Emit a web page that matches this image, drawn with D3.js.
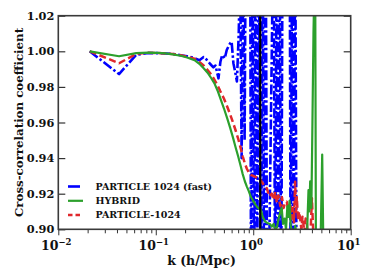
<!DOCTYPE html>
<html>
<head>
  <meta charset="UTF-8">
  <script src="https://d3js.org/d3.v7.min.js"></script>
  <style>
    body { margin: 0; background: #fff; }
    text { font-family: "DejaVu Serif", serif; font-weight: bold; fill: #111; }
  </style>
</head>
<body>
<svg></svg>
<script>

// ---- data ----
var kLow = [0.021, 0.042, 0.063, 0.084, 0.105, 0.126, 0.15, 0.18, 0.21, 0.25, 0.28, 0.31];

var hybridK = kLow.concat([0.34, 0.37, 0.40, 0.43, 0.46, 0.50, 0.54, 0.58, 0.62, 0.66, 0.70, 0.74, 0.78, 0.82, 0.86, 0.90, 0.95, 1.00, 1.05, 1.10, 1.15, 1.20, 1.25, 1.32, 1.40, 1.48, 1.55, 1.62, 1.68, 1.75, 1.82, 1.90, 1.96, 2.02, 2.10, 2.17, 2.24, 2.30, 2.36, 2.42, 2.50, 2.60, 2.70, 2.80, 3.0, 3.3, 3.55, 3.69, 3.76, 3.84, 3.95, 4.05, 4.15, 4.25, 4.32, 4.40, 4.60, 4.90, 5.10, 5.30, 5.50]);
var hybridR = [1.000, 0.9972, 0.9990, 0.9992, 0.9991, 0.9988, 0.9983, 0.9975, 0.9965, 0.9950, 0.9930, 0.9905,
  0.9880, 0.9850, 0.9820, 0.9780, 0.9735, 0.9680, 0.9625, 0.9570, 0.9515, 0.9460, 0.9410, 0.9360, 0.9310, 0.9270, 0.9240, 0.9215, 0.9180, 0.9160, 0.9140, 0.9125, 0.9115, 0.9110, 0.9070, 0.9045, 0.9035, 0.9030, 0.9015, 0.9030, 0.9000, 0.9010, 0.9060, 0.9100, 0.9120, 0.9030, 0.9060, 0.9000, 0.9130, 0.9070, 0.9160, 0.9020, 0.8990, 0.8960, 0.9020, 0.8950, 0.890, 0.885, 0.895, 0.922, 0.910, 0.927, 0.912, 0.960, 1.010, 1.040, 1.050, 0.880, 0.860, 0.890, 0.942, 0.870, 0.850];

var particleK = kLow.concat([0.34, 0.37, 0.40, 0.43, 0.46, 0.50, 0.54, 0.58, 0.62, 0.66, 0.70, 0.74, 0.78, 0.82, 0.86, 0.90, 0.95, 1.00, 1.05, 1.10, 1.15, 1.22, 1.30, 1.38, 1.46, 1.55, 1.62, 1.68, 1.75, 1.81, 1.90, 1.97, 2.05, 2.12, 2.21, 2.30, 2.39, 2.48, 2.55, 2.62, 2.69, 2.75, 2.80, 2.88, 2.95, 3.03, 3.12, 3.20, 3.27, 3.35, 3.45, 3.55, 3.62, 3.69, 3.80, 3.92, 4.00, 4.08, 4.15, 4.25]);
var particleR = [1.000, 0.9933, 0.9985, 0.9992, 0.9990, 0.9988, 0.9985, 0.9978, 0.9970, 0.9958, 0.9940, 0.9920,
  0.9895, 0.9870, 0.9840, 0.9810, 0.9775, 0.9735, 0.9690, 0.9645, 0.9600, 0.9555, 0.9510, 0.9460, 0.9410, 0.9370, 0.9340, 0.9320, 0.9305, 0.9300, 0.9295, 0.9290, 0.9290, 0.9267, 0.9245, 0.9230, 0.9185, 0.9200, 0.9165, 0.9210, 0.9150, 0.9190, 0.9130, 0.9180, 0.9120, 0.9150, 0.9155, 0.9100, 0.9146, 0.9060, 0.9120, 0.9040, 0.9267, 0.9100, 0.9180, 0.9050, 0.9100, 0.9060, 0.9000, 0.9070, 0.9030, 0.8980, 0.9060, 0.9035, 0.8970, 0.8990, 0.8900, 0.9050, 0.9174, 0.9050, 0.8950, 0.8800];

var fastK = kLow.concat([0.33, 0.36, 0.39, 0.41, 0.44, 0.46, 0.48, 0.51, 0.535, 0.56, 0.58, 0.60, 0.626, 0.652, 0.68, 0.71,
  0.7335, 0.760, 0.788, 0.816, 0.836, 0.929, 0.951, 0.985, 1.021, 1.058, 1.096, 1.136, 1.205, 1.249, 1.294, 1.341, 1.389, 1.422,
  1.619, 1.678, 1.739, 1.802, 1.866, 1.934, 2.004, 2.364, 2.421, 2.508, 2.599, 2.693, 2.790, 2.857]);
var fastR = [1.000, 0.9872, 0.9980, 0.9990, 0.9990, 0.9988, 0.9985, 0.9978, 0.9972, 0.9962, 0.9950, 0.9968,
  0.9955, 0.9930, 0.9910, 0.9920, 0.9848, 0.9940, 0.9979, 0.9960, 1.0007, 1.0030, 1.0045, 1.0054, 0.9933, 0.9886, 0.9830, 1.0100,
  1.050, 0.940, 1.050, 0.950, 1.060, 1.080, 0.850, 1.080, 0.850, 1.080, 0.850, 1.080, 0.850, 1.080, 0.850, 1.080, 0.850, 0.840,
  1.080, 0.850, 1.080, 0.850, 1.080, 0.850, 1.080, 1.090, 0.850, 1.080, 0.850, 1.080, 0.850, 0.840];

var series = [
  {name: "PARTICLE 1024 (fast)", k: fastK, r: fastR, color: "#0000ff", width: 2.6, dash: "10,2.5,2.5,2.5"},
  {name: "HYBRID", k: hybridK, r: hybridR, color: "#2ca02c", width: 2.2, dash: null},
  {name: "PARTICLE-1024", k: particleK, r: particleR, color: "#e0282c", width: 2.5, dash: "7,3.5"}
];
var kLine = 1.18;

var yTicks = [0.90, 0.92, 0.94, 0.96, 0.98, 1.00, 1.02];
var xTicks = [-2, -1, 0, 1];

var width = 374, height = 280;
var margin = {top: 15.7, right: 23.3, bottom: 50.7, left: 58.3};

var svg = d3.select("svg").attr("width", width).attr("height", height);

var x = d3.scaleLog().domain([0.01, 10]).range([margin.left, width - margin.right]);
var y = d3.scaleLinear().domain([0.90, 1.02]).range([height - margin.bottom, margin.top]);

svg.append("clipPath").attr("id", "clip")
  .append("rect")
  .attr("x", margin.left).attr("y", margin.top)
  .attr("width", x.range()[1] - x.range()[0])
  .attr("height", y.range()[0] - y.range()[1]);

var plot = svg.append("g").attr("clip-path", "url(#clip)");

var line = d3.line().x(d => x(d[0])).y(d => y(d[1]));

// blue at the back, then red, then green
[0, 2, 1].forEach(function(i) {
  var s = series[i];
  plot.append("path")
    .datum(s.k.map((k, j) => [k, s.r[j]]))
    .attr("d", line)
    .attr("fill", "none")
    .attr("stroke", s.color)
    .attr("stroke-width", s.width)
    .attr("stroke-dasharray", s.dash)
    .attr("stroke-linejoin", "round");
});

// vertical black line
plot.append("line")
  .attr("x1", x(kLine)).attr("x2", x(kLine))
  .attr("y1", y.range()[1]).attr("y2", y.range()[0])
  .attr("stroke", "#000").attr("stroke-width", 2.2);

// axes
var minorTicks = [];
[-2, -1, 0].forEach(function(e) {
  for (var m = 2; m <= 9; m++) minorTicks.push(m * Math.pow(10, e));
});

var xAxis = d3.axisBottom(x).tickValues(minorTicks).tickSize(4).tickFormat("");
svg.append("g").attr("transform", "translate(0," + y.range()[0] + ")")
  .call(xAxis).call(g => g.select(".domain").remove());

var xMajor = d3.axisBottom(x).tickValues(xTicks.map(e => Math.pow(10, e))).tickSize(6).tickFormat("");
svg.append("g").attr("transform", "translate(0," + y.range()[0] + ")")
  .call(xMajor).call(g => g.select(".domain").remove());

svg.selectAll(".tick line").attr("stroke", "#333").attr("stroke-width", 1);

var yLeft = d3.axisLeft(y).tickValues(yTicks).tickSize(-7).tickFormat("");
svg.append("g").attr("transform", "translate(" + margin.left + ",0)")
  .call(yLeft).call(g => g.select(".domain").remove())
  .selectAll("line").attr("stroke", "#333").attr("stroke-width", 1.2);

var yRight = d3.axisRight(y).tickValues(yTicks).tickSize(-7).tickFormat("");
svg.append("g").attr("transform", "translate(" + x.range()[1] + ",0)")
  .call(yRight).call(g => g.select(".domain").remove())
  .selectAll("line").attr("stroke", "#333").attr("stroke-width", 1.2);

// frame
svg.append("rect")
  .attr("x", margin.left).attr("y", margin.top)
  .attr("width", x.range()[1] - x.range()[0])
  .attr("height", y.range()[0] - y.range()[1])
  .attr("fill", "none").attr("stroke", "#3a3a3a").attr("stroke-width", 1.6);

// tick labels
svg.append("g").selectAll("text").data(yTicks).enter().append("text")
  .attr("x", margin.left - 4).attr("y", d => y(d))
  .attr("dy", "0.36em").attr("text-anchor", "end")
  .style("font-size", "11.3px")
  .text(d => d.toFixed(2));

var xl = svg.append("g").selectAll("text").data(xTicks).enter().append("text")
  .attr("x", d => x(Math.pow(10, d)) - 2).attr("y", 250)
  .attr("text-anchor", "middle")
  .style("font-size", "12.5px");
xl.append("tspan").text("10");
xl.append("tspan").attr("dy", -5).style("font-size", "8.5px")
  .text(d => d < 0 ? "\u2212" + Math.abs(d) : String(d));

// axis labels
svg.append("text")
  .attr("x", (x.range()[0] + x.range()[1]) / 2 - 3).attr("y", 265)
  .attr("text-anchor", "middle").style("font-size", "12.5px")
  .text("k (h/Mpc)");

svg.append("text")
  .attr("transform", "translate(22.5," + ((y.range()[0] + y.range()[1]) / 2) + ") rotate(-90)")
  .attr("text-anchor", "middle").style("font-size", "11.8px")
  .text("Cross-correlation coefficient");

// legend
var legend = svg.append("g").selectAll("g").data(series).enter().append("g")
  .attr("transform", (d, i) => "translate(68," + (186.5 + i * 14.3) + ")");
legend.append("line")
  .attr("x1", 0).attr("x2", 15)
  .attr("stroke", d => d.color).attr("stroke-width", d => d.width)
  .attr("stroke-dasharray", (d, i) => i == 2 ? "4.5,3" : (i == 0 ? "12,3" : null));
legend.append("text")
  .attr("x", 27.5).attr("dy", "0.35em")
  .style("font-size", "9.5px")
  .text(d => d.name);

</script>
</body>
</html>
